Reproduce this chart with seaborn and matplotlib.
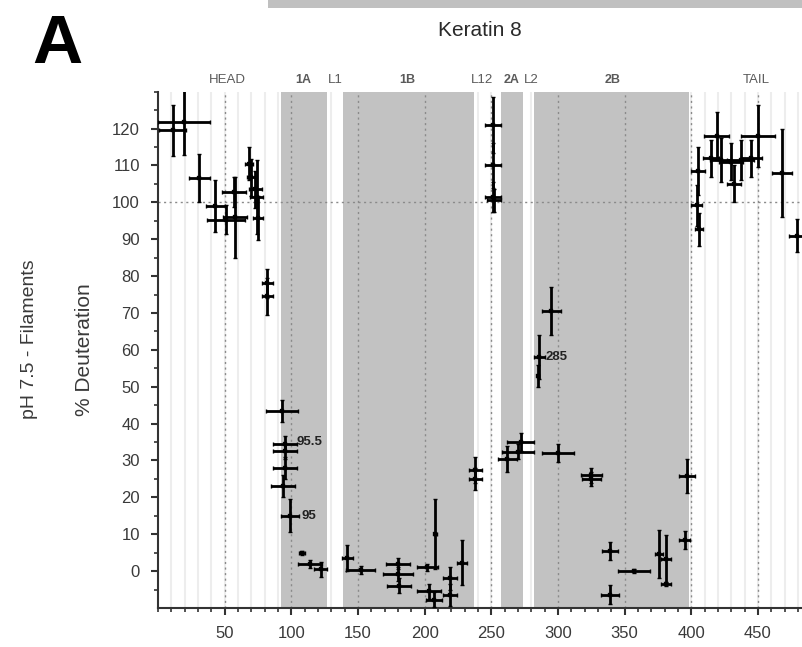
import numpy as np
import pandas as pd
import matplotlib
matplotlib.use("Agg")
import matplotlib.pyplot as plt
import seaborn as sns

# ---- data ----
res_center = [11, 19.5, 31, 43, 51, 57, 58, 68, 70, 73, 74, 75, 82, 82,
              93, 95.5, 95, 95, 94, 99, 108, 114, 122,
              142, 152, 180, 180, 181, 202, 208, 203, 207, 219, 219, 228, 238, 238,
              251, 251, 251, 252, 272, 270, 262, 300, 286, 285, 295,
              325, 325, 339, 339, 357, 376, 381, 381, 395, 397,
              405, 404, 406, 419, 450, 415, 422, 430, 437, 445, 432, 468, 479]
res_half = [10, 19.5, 8, 7, 14, 9, 9, 3, 3, 5, 5, 4, 4, 4,
            12, 9, 9, 9, 9, 7, 2, 9, 5,
            4, 11, 9, 11, 9, 8, 1, 9, 6, 5, 5, 4, 5, 5,
            6, 6, 6, 5, 10, 12, 7, 12, 4, 1, 7,
            8, 7, 6, 7, 12, 3, 4, 4, 4, 6,
            5, 4, 3, 9.5, 12.5, 6, 8, 9, 10, 8, 5, 7.5, 6]
deut = [119.5, 121.7, 106.6, 99, 95.3, 102.8, 96, 110.5, 106.8, 103.5, 101.4, 95.7, 78, 74.5,
        43.5, 34.5, 32.5, 28, 23, 15, 5, 1.9, 0.5,
        3.5, 0.3, 2, -0.8, -4, 1, 10, -5.5, -7.8, -2, -6.5, 2.3, 27.5, 24.9,
        121, 110, 101.5, 100.5, 35, 32.4, 30.3, 32, 58, 53, 70.5,
        26, 25, 5.5, -6.4, 0, 4.6, 3.2, -3.5, 8.5, 25.8,
        108.5, 99.2, 92.7, 118, 118, 112, 111.5, 111, 111.5, 112, 105, 108, 91]
deut_err = [7, 9, 6.5, 7, 4, 4, 11, 4.5, 5, 5, 10, 6, 4, 5,
            3, 2, 2, 3, 3, 4.5, 0.5, 1, 2,
            3.5, 1, 1.5, 2, 2, 1, 9.5, 2, 2, 3, 3, 6, 3.5, 3,
            7.5, 6, 4, 3, 2.5, 2, 3.5, 2.5, 6, 3, 6.5,
            2, 2, 2.5, 2.5, 0.5, 6.5, 6.5, 0.5, 2.5, 4.5,
            6.5, 5.5, 4.5, 6.5, 8.5, 5, 6, 5, 5.5, 5, 5, 12, 4.5]

domain_names = ["1A", "1B", "2A", "2B"]
domain_start = [92, 138.5, 257, 282]
domain_end = [126.5, 237, 274, 398]

region_labels = ["HEAD", "1A", "L1", "1B", "L12", "2A", "L2", "2B", "TAIL"]
region_pos = [52, 109, 133, 187, 243, 265, 280, 341, 449]
region_bold = [False, True, False, True, False, True, False, True, False]

annot_text = ["95.5", "95", "285"]
annot_x = [104, 108, 291]
annot_y = [35, 15, 58]

df = pd.DataFrame({"res": res_center, "half": res_half, "deut": deut, "err": deut_err})

# ---- plot ----
sns.set_theme(style="white")
plt.rcParams["font.family"] = ["Liberation Sans", "DejaVu Sans"]

fig = plt.figure(figsize=(8.02, 6.47), dpi=100)
ax = fig.add_axes([0.197, 0.0603, 0.803, 0.798])

ax.set_xlim(0, 483)
ax.set_ylim(-10, 130)

# faint vertical lines
for xv in np.arange(10, 483, 10):
    ax.axvline(xv, color="#ededed", lw=1.5, zorder=0)
for s, e in zip(domain_start, domain_end):
    ax.axvspan(s, e, color="#c2c2c2", lw=0, zorder=0.5)
for xv in np.arange(50, 483, 50):
    ax.axvline(xv, color="#8a8a8a", lw=1.0, ls=(0, (1.5, 2.5)), zorder=0.8)
ax.axhline(100, color="#8a8a8a", lw=1.0, ls=(0, (1.5, 2.5)), zorder=0.8)

ax.errorbar(df["res"], df["deut"], xerr=df["half"], yerr=df["err"], fmt="none",
            ecolor="black", elinewidth=2.0, capsize=1.5, capthick=1.0, zorder=3)
sns.scatterplot(data=df, x="res", y="deut", ax=ax, color="black", s=8,
                marker="s", edgecolor="black", zorder=4, legend=False)

for t, xx, yy in zip(annot_text, annot_x, annot_y):
    ax.text(xx, yy, t, fontsize=9.5, fontweight="bold", color="#222222",
            va="center", ha="left", zorder=5)

for lab, xp, b in zip(region_labels, region_pos, region_bold):
    ax.text(xp, 133.3, lab, fontsize=9 if b else 9.5,
            fontweight="bold" if b else "normal", color="#5a5a5a",
            ha="center", va="center", clip_on=False)

# axes styling
for sp in ["top", "right"]:
    ax.spines[sp].set_visible(False)
for sp in ["left", "bottom"]:
    ax.spines[sp].set_color("#333333")
    ax.spines[sp].set_linewidth(1.5)

ax.set_xticks(np.arange(50, 483, 50))
ax.set_xticks(np.arange(0, 483, 10), minor=True)
ax.set_yticks(np.arange(0, 121, 10))
ax.set_yticks(np.arange(-5, 131, 5), minor=True)
ax.tick_params(axis="both", which="major", direction="out", length=5, width=1.5,
               color="#333333", labelsize=12, labelcolor="#3a3a3a", pad=8)
ax.tick_params(axis="both", which="minor", direction="out", length=3, width=1.2,
               color="#333333")
ax.tick_params(bottom=True, left=True)
ax.tick_params(which="minor", bottom=True, left=True)
ax.set_xlabel("")
ax.set_ylabel("% Deuteration", fontsize=15, color="#3a3a3a", labelpad=13)

fig.text(0.037, 0.475, "pH 7.5 - Filaments", rotation=90, fontsize=14,
         color="#3a3a3a", ha="center", va="center")
fig.text(0.598, 0.953, "Keratin 8", fontsize=15, color="#2a2a2a", ha="center", va="center")
fig.text(0.04, 0.93, "A", fontsize=50, fontweight="bold", color="black",
         ha="left", va="center")
fig.patches.append(plt.Rectangle((0.334, 0.987), 0.666, 0.013, transform=fig.transFigure,
                                 color="#c0c0c0", lw=0))

fig.savefig("out.png", dpi=100)
